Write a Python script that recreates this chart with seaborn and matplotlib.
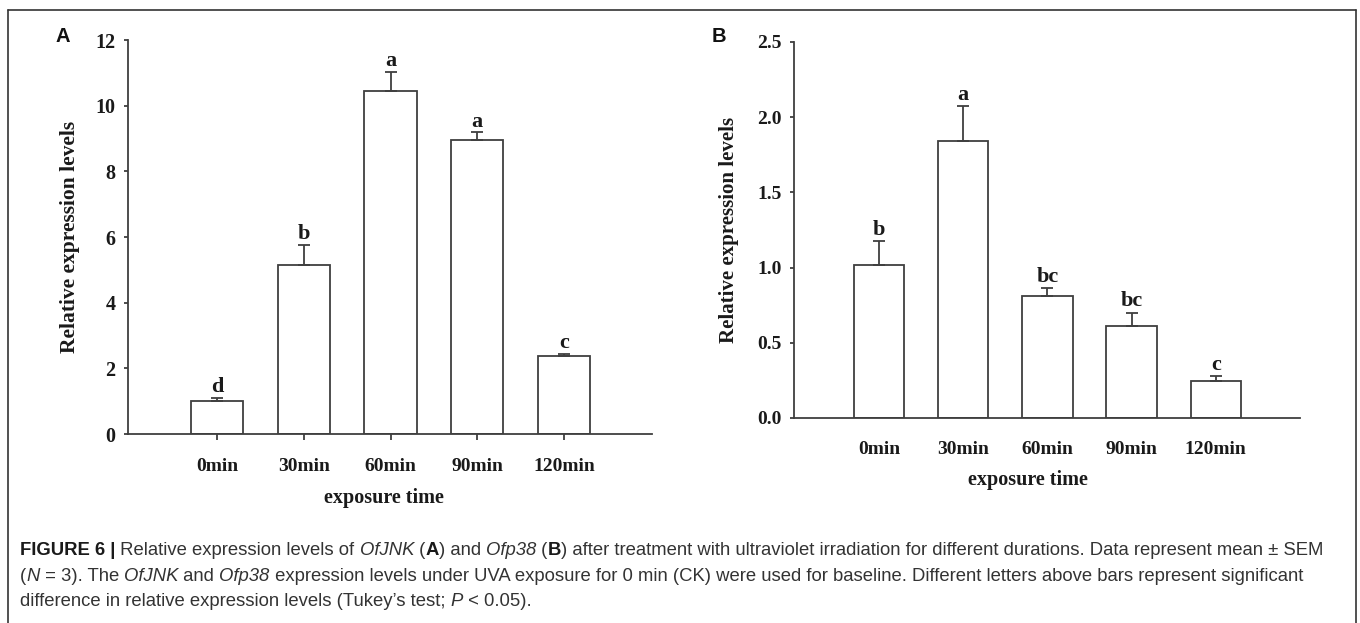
import numpy as np
import pandas as pd
import matplotlib
matplotlib.use("Agg")
import matplotlib.pyplot as plt
import seaborn as sns
from matplotlib.lines import Line2D

# ---------------- data ----------------
categories = ["0min", "30min", "60min", "90min", "120min"]

jnk_mean = [1.01, 5.15, 10.45, 8.96, 2.37]
jnk_sem = [0.10, 0.61, 0.58, 0.23, 0.07]
jnk_letters = ["d", "b", "a", "a", "c"]
jnk_yticks = [0, 2, 4, 6, 8, 10, 12]
jnk_yticklabels = ["0", "2", "4", "6", "8", "10", "12"]

p38_mean = [1.02, 1.845, 0.81, 0.615, 0.245]
p38_sem = [0.155, 0.23, 0.055, 0.085, 0.033]
p38_letters = ["b", "a", "bc", "bc", "c"]
p38_yticks = [0.0, 0.5, 1.0, 1.5, 2.0, 2.5]
p38_yticklabels = ["0.0", "0.5", "1.0", "1.5", "2.0", "2.5"]

ylabel_text = "Relative expression levels"
xlabel_text = "exposure time"

caption_lines = [
    [("FIGURE 6 |", "bold"), (" Relative expression levels of ", "reg"), ("OfJNK", "it"),
     (" (", "reg"), ("A", "bold"), (") and ", "reg"), ("Ofp38", "it"), (" (", "reg"),
     ("B", "bold"),
     (") after treatment with ultraviolet irradiation for different durations. Data represent mean \u00b1 SEM", "reg")],
    [("(", "reg"), ("N", "it"), (" = 3). The ", "reg"), ("OfJNK", "it"), (" and ", "reg"),
     ("Ofp38", "it"),
     (" expression levels under UVA exposure for 0 min (CK) were used for baseline. Different letters above bars represent significant", "reg")],
    [("difference in relative expression levels (Tukey\u2019s test; ", "reg"), ("P", "it"),
     (" < 0.05).", "reg")],
]

# ---------------- style ----------------
sns.set_style("ticks")
SERIF = ["Liberation Serif", "DejaVu Serif"]
CAPF = ["Liberation Sans Narrow", "Liberation Sans", "DejaVu Sans"]
plt.rcParams["font.family"] = SERIF

W, H = 1360, 623
EDGE = "#3f3f3f"
TXT = "#1a1a1a"
LW = 1.3

fig = plt.figure(figsize=(W / 100, H / 100), dpi=100)


def px_axes(l, r, t, b):
    return fig.add_axes([l / W, 1 - b / H, (r - l) / W, (b - t) / H])


def panel(ax, means, sems, letters, yticks, yticklabels, xlim, xticks_on,
          xpad, ylab_x, xlab_xy, letter_off, tick_size, ylab_size, letter_size):
    df = pd.DataFrame({"time": categories, "level": means})
    sns.barplot(data=df, x="time", y="level", order=categories, ax=ax,
                color="white", edgecolor=EDGE, linewidth=LW, width=0.6,
                errorbar=None, saturation=1)
    n = len(categories)
    ax.errorbar(np.arange(n), means, yerr=[np.zeros(n), sems], fmt="none",
                ecolor=EDGE, elinewidth=LW, capsize=4.5, capthick=LW, zorder=3)
    for i, (m, s, let) in enumerate(zip(means, sems, letters)):
        ax.annotate(let, (i, m + s), xytext=(0, letter_off), textcoords="offset points",
                    ha="center", va="bottom", fontsize=letter_size, fontweight="bold",
                    color=TXT, family=SERIF)
    ax.set_xlim(*xlim)
    ax.set_ylim(yticks[0], yticks[-1])
    ax.set_yticks(yticks)
    ax.set_yticklabels(yticklabels)
    sns.despine(ax=ax)
    for sp in ("left", "bottom"):
        ax.spines[sp].set_color(EDGE)
        ax.spines[sp].set_linewidth(LW)
    ax.tick_params(axis="y", direction="out", length=2.6, width=LW, color=EDGE,
                   pad=6.5, labelsize=tick_size, labelcolor=TXT)
    ax.tick_params(axis="x", direction="out", length=4.3 if xticks_on else 0,
                   width=LW, color=EDGE, pad=xpad, labelsize=14, labelcolor=TXT)
    for lab in ax.get_xticklabels() + ax.get_yticklabels():
        lab.set_fontweight("bold")
    ax.set_ylabel(ylabel_text, fontsize=ylab_size, fontweight="bold", color=TXT)
    ax.yaxis.set_label_coords(ylab_x, 0.5)
    ax.yaxis.label.set_va("center")
    ax.set_xlabel(xlabel_text, fontsize=14.5, fontweight="bold", color=TXT)
    ax.xaxis.set_label_coords(*xlab_xy)
    ax.xaxis.label.set_va("center")
    ax.set_facecolor("none")


axA = px_axes(128, 652, 40, 434)
panel(axA, jnk_mean, jnk_sem, jnk_letters, jnk_yticks, jnk_yticklabels,
      (-1.026, 5.014), True, 13, -0.11, (0.489, -0.163), 0.5, 14.5, 15.5, 16)

axB = px_axes(794, 1300, 42, 418)
panel(axB, p38_mean, p38_sem, p38_letters, p38_yticks, p38_yticklabels,
      (-1.009, 5.0), False, 16.5, -0.128, (0.462, -0.165), 1, 14, 15, 16)

# panel letters
fig.text(63 / W, 1 - 37 / H, "A", fontsize=14.5, fontweight="bold", color="#111111",
         family=["Liberation Sans", "DejaVu Sans"], ha="center", va="center")
fig.text(719 / W, 1 - 37 / H, "B", fontsize=14.5, fontweight="bold", color="#111111",
         family=["Liberation Sans", "DejaVu Sans"], ha="center", va="center")

# outer frame (left, top, right; open at the bottom)
fx0, fx1, fy0 = 8 / W, 1356 / W, 1 - 10 / H
for xs, ys in (([fx0, fx0], [-0.01, fy0]), ([fx0, fx1], [fy0, fy0]), ([fx1, fx1], [fy0, -0.01])):
    fig.add_artist(Line2D(xs, ys, transform=fig.transFigure, color="#333333", lw=1.2))

# caption, rich text laid out piece by piece
renderer = fig.canvas.get_renderer()
STY = {"reg": dict(fontweight="normal", fontstyle="normal", color="#333333"),
       "it": dict(fontweight="normal", fontstyle="italic", color="#333333"),
       "bold": dict(fontweight="bold", fontstyle="normal", color="#1a1a1a")}


def advance(text, size, style):
    t1 = fig.text(0, 0, text + "|", fontsize=size, family=CAPF, **STY[style])
    t2 = fig.text(0, 0, "|", fontsize=size, family=CAPF, **STY[style])
    w = t1.get_window_extent(renderer).width - t2.get_window_extent(renderer).width
    t1.remove()
    t2.remove()
    return w


def line_width(segs, size):
    return sum(advance(t, size, s) for t, s in segs)


base = 12.0
target = 1307.0
cap_size = base * target / line_width(caption_lines[0], base)

cap_x0 = 20
cap_ys = [555, 581, 606]
for segs, yb in zip(caption_lines, cap_ys):
    x = cap_x0
    for text, style in segs:
        fig.text(x / W, 1 - yb / H, text, fontsize=cap_size, family=CAPF,
                 ha="left", va="baseline", **STY[style])
        x += advance(text, cap_size, style)

fig.savefig("out.png", dpi=100, facecolor="white")
